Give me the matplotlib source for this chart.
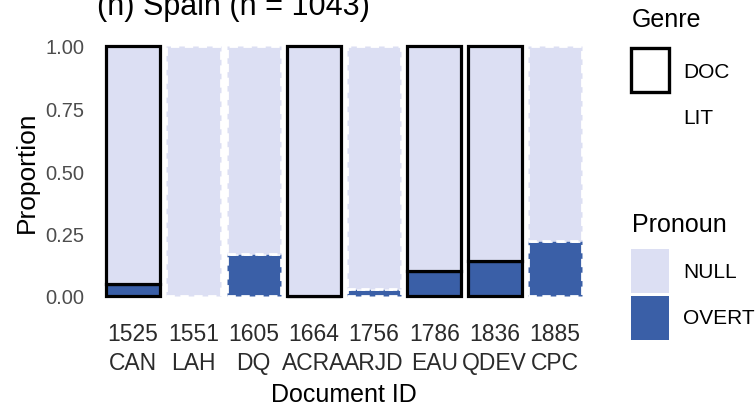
import matplotlib
matplotlib.use("Agg")
import matplotlib.pyplot as plt
from matplotlib.patches import Rectangle

plt.rcParams["font.family"] = ["Liberation Sans", "DejaVu Sans"]

# document ids (year + code), genre and share of overt pronouns
years = ["1525", "1551", "1605", "1664", "1756", "1786", "1836", "1885"]
codes = ["CAN", "LAH", "DQ", "ACRA", "ARJD", "EAU", "QDEV", "CPC"]
genre = ["DOC", "LIT", "LIT", "DOC", "LIT", "DOC", "DOC", "LIT"]
overt = [0.05, 0.0, 0.17, 0.0, 0.03, 0.10, 0.14, 0.22]
null = [1 - v for v in overt]

NULL_COLOR = "#dcdff3"
OVERT_COLOR = "#3a5fa7"
TEXT_GRAY = "#4d4d4d"

W, H = 755, 410


def fx(px):
    return px / W


def fy(py):
    return 1 - py / H


fig = plt.figure(figsize=(W / 100, H / 100), dpi=100)
ax = fig.add_axes([fx(97), fy(309.5), fx(591) - fx(97), fy(34.5) - fy(309.5)])

x = list(range(1, len(years) + 1))
for i, g in enumerate(genre):
    if g == "DOC":
        style = dict(edgecolor="black", linewidth=2.3, linestyle="-")
    else:
        style = dict(edgecolor="white", linewidth=2.0, linestyle=(0, (3, 2)))
    ax.bar(x[i], overt[i], width=0.9, color=OVERT_COLOR, **style)
    ax.bar(x[i], null[i], width=0.9, bottom=overt[i], color=NULL_COLOR, **style)

ax.set_xlim(0.4, 8.6)
ax.set_ylim(-0.05, 1.05)
ax.set_yticks([0, 0.25, 0.5, 0.75, 1.0])
ax.set_yticklabels(["0.00", "0.25", "0.50", "0.75", "1.00"])
ax.set_xticks(x)
ax.set_xticklabels([f"{y}\n{c}" for y, c in zip(years, codes)], linespacing=1.3)
ax.tick_params(axis="y", length=0, pad=9, labelsize=14.5, labelcolor=TEXT_GRAY)
ax.tick_params(axis="x", length=0, pad=10, labelsize=16.5, labelcolor="#2b2b2b")
for s in ax.spines.values():
    s.set_visible(False)

ax.set_ylabel("Proportion", fontsize=19, labelpad=5)
ax.set_xlabel("Document ID", fontsize=18, labelpad=6)

fig.text(fx(97), fy(15), "(h) Spain (n = 1043)", fontsize=22, va="baseline", ha="left")

# legend: Genre
fig.text(fx(632), fy(27), "Genre", fontsize=18, va="baseline", ha="left")
fig.add_artist(Rectangle((fx(631), fy(93)), fx(669) - fx(631), fy(49) - fy(93),
                         transform=fig.transFigure, facecolor="white",
                         edgecolor="black", linewidth=2.4))
fig.add_artist(Rectangle((fx(631), fy(141)), fx(669) - fx(631), fy(97) - fy(141),
                         transform=fig.transFigure, facecolor="white",
                         edgecolor="white", linewidth=2.0, linestyle=(0, (3, 2))))
fig.text(fx(683), fy(73), "DOC", fontsize=15, va="center", ha="left")
fig.text(fx(683), fy(119), "LIT", fontsize=15, va="center", ha="left")

# legend: Pronoun
fig.text(fx(632), fy(232), "Pronoun", fontsize=18, va="baseline", ha="left")
fig.add_artist(Rectangle((fx(631), fy(294)), fx(669) - fx(631), fy(250) - fy(294),
                         transform=fig.transFigure, facecolor=NULL_COLOR, edgecolor="none"))
fig.add_artist(Rectangle((fx(631), fy(341)), fx(669) - fx(631), fy(297) - fy(341),
                         transform=fig.transFigure, facecolor=OVERT_COLOR, edgecolor="none"))
fig.text(fx(683), fy(272), "NULL", fontsize=15, va="center", ha="left")
fig.text(fx(683), fy(319), "OVERT", fontsize=15, va="center", ha="left")

fig.savefig("out.png", dpi=100)
